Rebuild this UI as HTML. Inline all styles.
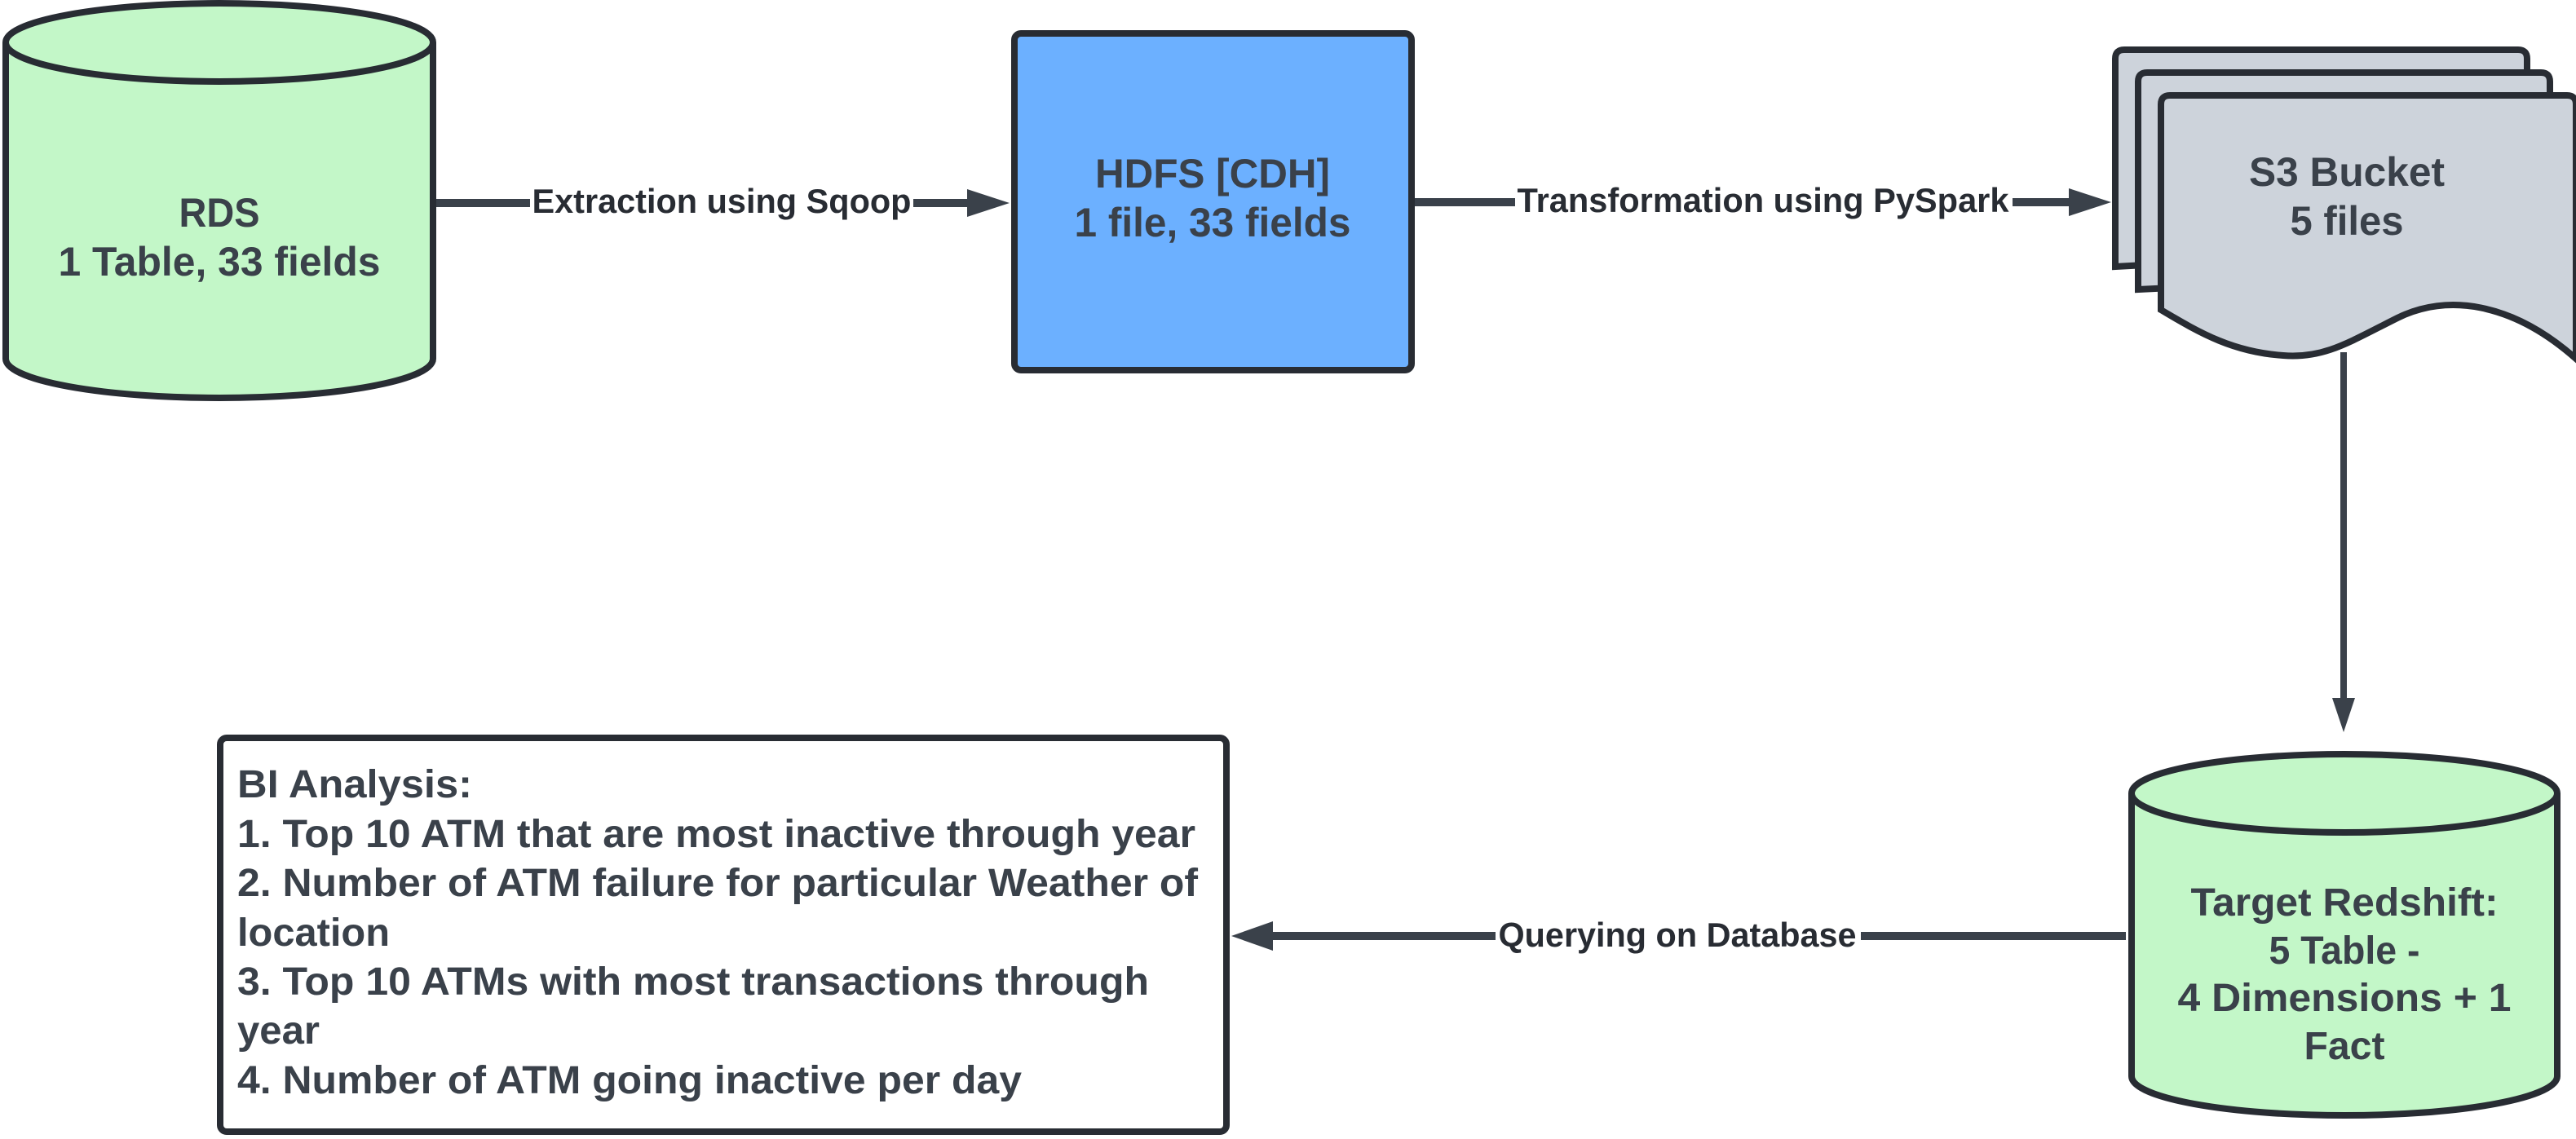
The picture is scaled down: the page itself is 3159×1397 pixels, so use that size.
<!DOCTYPE html>
<html><head><meta charset="utf-8"><style>html,body{margin:0;padding:0;background:#fff;}svg{display:block}</style></head>
<body>
<svg width="3159" height="1397" viewBox="0 0 3159 1397" xmlns="http://www.w3.org/2000/svg" font-family="Liberation Sans, sans-serif" font-weight="bold" fill="#3a414a">
<!-- RDS cylinder -->
<path d="M7,52 L7,440 A262,48 0 0 0 531,440 L531,52" fill="#c3f7c8" stroke="#282c33" stroke-width="8"/>
<ellipse cx="269" cy="52" rx="262" ry="48" fill="#c3f7c8" stroke="#282c33" stroke-width="8"/>
<text x="269" y="278" font-size="50" text-anchor="middle" textLength="99" lengthAdjust="spacingAndGlyphs">RDS</text>
<text x="269" y="338" font-size="50" text-anchor="middle" textLength="395" lengthAdjust="spacingAndGlyphs">1 Table, 33 fields</text>

<!-- arrow 1 -->
<line x1="535" y1="249" x2="1190" y2="249" stroke="#3a414a" stroke-width="10"/>
<polygon points="1186,232 1238,249 1186,266" fill="#3a414a"/>
<rect x="650" y="218" width="470" height="56" fill="#fff"/>
<text x="885" y="261" font-size="42" text-anchor="middle" textLength="465" lengthAdjust="spacingAndGlyphs" fill="#282c33">Extraction using Sqoop</text>

<!-- HDFS -->
<rect x="1244" y="41" width="487" height="413" rx="8" fill="#6cb0ff" stroke="#282c33" stroke-width="8"/>
<text x="1487" y="230" font-size="50" text-anchor="middle" textLength="288" lengthAdjust="spacingAndGlyphs">HDFS [CDH]</text>
<text x="1487" y="290" font-size="50" text-anchor="middle" textLength="339" lengthAdjust="spacingAndGlyphs">1 file, 33 fields</text>

<!-- arrow 2 -->
<line x1="1735" y1="248" x2="2540" y2="248" stroke="#3a414a" stroke-width="10"/>
<polygon points="2537,231 2589,248 2537,265" fill="#3a414a"/>
<rect x="1858" y="218" width="610" height="56" fill="#fff"/>
<text x="2162" y="260" font-size="42" text-anchor="middle" textLength="603" lengthAdjust="spacingAndGlyphs" fill="#282c33">Transformation using PySpark</text>

<!-- S3 docs -->
<path d="M2594,72 Q2594,61 2605,61 L3088,61 Q3099,61 3099,72 L3099,300 L2594,327 Z" fill="#cdd3db" stroke="#282c33" stroke-width="8"/>
<path d="M2622,100 Q2622,89 2633,89 L3116,89 Q3127,89 3127,100 L3127,330 L2622,355 Z" fill="#cdd3db" stroke="#282c33" stroke-width="8"/>
<path d="M2650,128 Q2650,117 2661,117 L3148,117 Q3159,117 3159,128 L3159,440 C3080,370 3000,360 2940,390 C2880,420 2850,440 2800,436 C2740,432 2700,410 2650,380 Z" fill="#cdd3db" stroke="#282c33" stroke-width="8"/>
<text x="2878" y="228" font-size="50" text-anchor="middle" textLength="240" lengthAdjust="spacingAndGlyphs">S3 Bucket</text>
<text x="2878" y="288" font-size="50" text-anchor="middle" textLength="139" lengthAdjust="spacingAndGlyphs">5 files</text>

<!-- vertical arrow -->
<line x1="2874" y1="432" x2="2874" y2="860" stroke="#3a414a" stroke-width="8"/>
<polygon points="2860,856 2888,856 2874,898" fill="#3a414a"/>

<!-- Target cylinder -->
<path d="M2614,973 L2614,1320 A261,48 0 0 0 3136,1320 L3136,973" fill="#c3f7c8" stroke="#282c33" stroke-width="8"/>
<ellipse cx="2875" cy="973" rx="261" ry="48" fill="#c3f7c8" stroke="#282c33" stroke-width="8"/>
<g font-size="48" text-anchor="middle">
<text x="2875" y="1123" textLength="377" lengthAdjust="spacingAndGlyphs">Target Redshift:</text>
<text x="2875" y="1182" textLength="185" lengthAdjust="spacingAndGlyphs">5 Table -</text>
<text x="2875" y="1240" textLength="409" lengthAdjust="spacingAndGlyphs">4 Dimensions + 1</text>
<text x="2875" y="1299" textLength="99" lengthAdjust="spacingAndGlyphs">Fact</text>
</g>

<!-- arrow 3 -->
<line x1="1560" y1="1148" x2="2607" y2="1148" stroke="#3a414a" stroke-width="10"/>
<polygon points="1561,1130 1510,1148 1561,1166" fill="#3a414a"/>
<rect x="1834" y="1118" width="448" height="56" fill="#fff"/>
<text x="2057" y="1161" font-size="42" text-anchor="middle" textLength="439" lengthAdjust="spacingAndGlyphs" fill="#282c33">Querying on Database</text>

<!-- BI box -->
<rect x="270" y="905" width="1234" height="483" rx="8" fill="#fff" stroke="#282c33" stroke-width="8"/>
<g font-size="48">
<text x="291" y="978" textLength="288" lengthAdjust="spacingAndGlyphs">BI Analysis:</text>
<text x="291" y="1039" textLength="1175" lengthAdjust="spacingAndGlyphs">1. Top 10 ATM that are most inactive through year</text>
<text x="291" y="1099" textLength="1178" lengthAdjust="spacingAndGlyphs">2. Number of ATM failure for particular Weather of</text>
<text x="291" y="1160" textLength="187" lengthAdjust="spacingAndGlyphs">location</text>
<text x="291" y="1220" textLength="1118" lengthAdjust="spacingAndGlyphs">3. Top 10 ATMs with most transactions through</text>
<text x="291" y="1280" textLength="101" lengthAdjust="spacingAndGlyphs">year</text>
<text x="291" y="1341" textLength="962" lengthAdjust="spacingAndGlyphs">4. Number of ATM going inactive per day</text>
</g>
</svg>
</body></html>
